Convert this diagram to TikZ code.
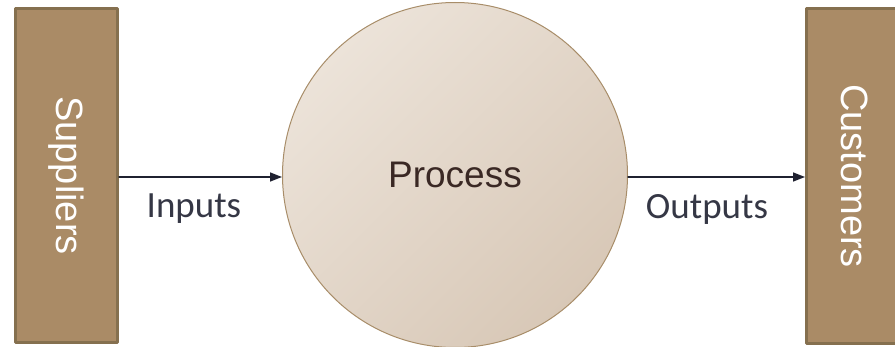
\documentclass[tikz,border=0pt]{standalone}
\usepackage{fontspec}
\setmainfont{Liberation Sans}
\newfontfamily\labelfont{Carlito}
\usepackage{tikz}
\usetikzlibrary{arrows.meta}
\definecolor{boxfill}{HTML}{AA8B66}
\definecolor{boxline}{HTML}{85704F}
\definecolor{proctop}{HTML}{ECE3D9}
\definecolor{procbot}{HTML}{D8C8B7}
\definecolor{procline}{HTML}{A88D69}
\definecolor{proctext}{HTML}{3A2824}
\definecolor{flowline}{HTML}{1F2130}
\tikzset{
    party/.style={
        draw=boxline, line width=3pt, fill=boxfill,
        minimum width=102pt, minimum height=334pt, inner sep=0pt
    },
    partytext/.style={
        text=white, font=\fontsize{38}{44}\selectfont, rotate=-90
    },
    flow/.style={
        draw=flowline, line width=1.4pt,
        -{Triangle[length=12pt,width=9pt]}
    },
    flowlab/.style={
        text=flowline!90!white, font=\labelfont\fontsize{37}{44}\selectfont
    }
}

\begin{document}
\begin{tikzpicture}[x=1pt,y=1pt, line cap=round, line join=round]

\useasboundingbox (0,0) rectangle (895,346);

% side boxes
\node[party] (sup) at (66.5,170.5) {};
\node[partytext] at (sup.center) {Suppliers};
\node[party] (cus) at (857.5,170) {};
\node[partytext] at ([xshift=-3pt]cus.center) {Customers};

% the process
\node[circle, draw=procline, line width=1pt, minimum size=345pt, inner sep=0pt,
      top color=proctop, bottom color=procbot, shading angle=45,
      text=proctext, font=\fontsize{37}{44}\selectfont] (proc) at (455,171) {Process};

% flows
\draw[flow] (sup.east |- 0,169) -- (proc.west |- 0,169);
\draw[flow] (proc.east |- 0,169) -- (cus.west |- 0,169);

\node[flowlab] (inp) at (194,137) {Inputs};
\node[flowlab] (outp) at (707,137) {Outputs};

\end{tikzpicture}
\end{document}
